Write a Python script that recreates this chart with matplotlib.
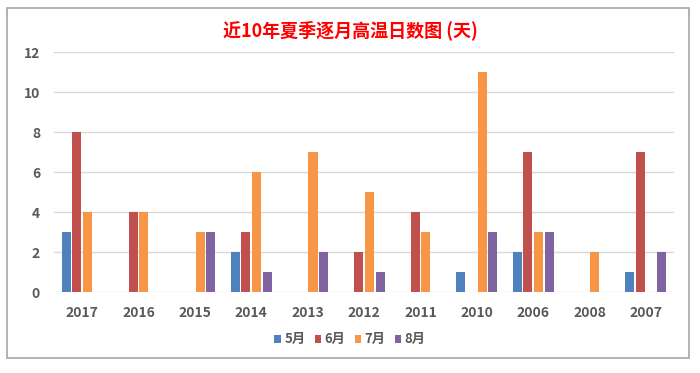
import numpy as np
import matplotlib
matplotlib.use("Agg")
import matplotlib.pyplot as plt
from matplotlib.patches import Rectangle

plt.rcParams['font.family'] = ['Noto Sans CJK SC', 'DejaVu Sans']

years = ["2017", "2016", "2015", "2014", "2013", "2012", "2011", "2010", "2006", "2008", "2007"]
may = [3, 0, 0, 2, 0, 0, 0, 1, 2, 0, 1]
jun = [8, 4, 0, 3, 0, 2, 4, 0, 7, 0, 7]
jul = [4, 4, 3, 6, 7, 5, 3, 11, 3, 2, 0]
aug = [0, 0, 3, 1, 2, 1, 0, 3, 3, 0, 2]
series = [("5月", may, "#4F81BD"), ("6月", jun, "#C0504D"),
          ("7月", jul, "#F79646"), ("8月", aug, "#8064A2")]

fig = plt.figure(figsize=(7, 3.73), dpi=100)
ax = fig.add_axes([54 / 700, 1 - 292 / 373, 620 / 700, 240 / 373])

x = np.arange(len(years))
w = 0.16
step = 0.19
for i, (name, vals, col) in enumerate(series):
    ax.bar(x + (i - 1.5) * step, vals, w, color=col, label=name, zorder=3)

ax.set_xlim(-0.5, len(years) - 0.5)
ax.set_ylim(0, 12)
ax.set_yticks(range(0, 13, 2))
ax.set_xticks(x)
ax.set_xticklabels(years)
ax.grid(axis="y", color="#d9d9d9", linewidth=1, zorder=0)
for s in ax.spines.values():
    s.set_visible(False)
ax.tick_params(length=0, labelsize=10, labelcolor="#595959", pad=10)
for lab in ax.get_xticklabels() + ax.get_yticklabels():
    lab.set_fontweight("bold")

fig.text(0.5, 0.92, "近10年夏季逐月高温日数图 (天)", ha="center", va="center",
         color="red", fontsize=13, fontweight="bold")

leg = fig.legend(loc="center", bbox_to_anchor=(0.5, 0.09), ncol=4, frameon=False,
                 handlelength=0.5, handleheight=0.5, handletextpad=0.25,
                 columnspacing=0.7, prop={"size": 9.5, "weight": "bold"})
for t in leg.get_texts():
    t.set_color("#595959")

fig.patches.append(Rectangle((7 / 700, 1 - 358 / 373), 682 / 700, 350 / 373,
                             transform=fig.transFigure, fill=False,
                             edgecolor="#a6a6a6", linewidth=1.2))

fig.savefig("out.png", dpi=100)
